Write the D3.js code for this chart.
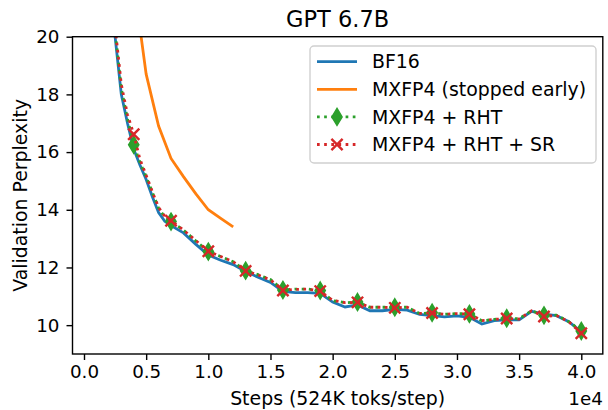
<!DOCTYPE html>
<html>
<head>
<meta charset="utf-8">
<script src="https://cdn.jsdelivr.net/npm/d3@7"></script>
<style>
  html, body { margin: 0; padding: 0; background: #fff; }
  svg { display: block; font-family: "DejaVu Sans", sans-serif; }
</style>
</head>
<body>
<svg id="chart" width="608" height="410"></svg>
<script>
// ---------- data ----------
const title = "GPT 6.7B";
const xLabel = "Steps (524K toks/step)";
const yLabel = "Validation Perplexity";
const xTicks = [0, 5000, 10000, 15000, 20000, 25000, 30000, 35000, 40000];
const xTickLabels = ["0.0", "0.5", "1.0", "1.5", "2.0", "2.5", "3.0", "3.5", "4.0"];
const yTicks = [10, 12, 14, 16, 18, 20];
const seriesNames = ["BF16", "MXFP4 (stopped early)", "MXFP4 + RHT", "MXFP4 + RHT + SR"];

const bf16Steps = [2000, 2500, 3000, 3500, 4000, 4500, 5000, 5500, 6000, 6500, 7000,
  8000, 9000, 10000, 11000, 12000, 13000, 14000, 15000, 16000, 17000, 18000, 19000, 20000,
  21000, 22000, 23000, 24000, 25000, 26000, 27000, 28000, 29000, 30000, 31000, 32000,
  33000, 34000, 35000, 36000, 37000, 38000, 39000, 40000];
const bf16Values = [22.6, 20.0, 18.0, 17.0, 16.1, 15.55, 15.05, 14.45, 13.9, 13.6, 13.45,
  13.2, 12.8, 12.43, 12.25, 12.1, 11.86, 11.66, 11.48, 11.17, 11.13, 11.13, 11.1, 10.8,
  10.63, 10.7, 10.5, 10.5, 10.55, 10.52, 10.37, 10.33, 10.29, 10.32, 10.27, 10.04,
  10.16, 10.18, 10.18, 10.48, 10.38, 10.33, 10.12, 9.77];

const mxfp4Steps = [4000, 5000, 6000, 7000, 8000, 9000, 10000, 11000, 12000];
const mxfp4Values = [21.9, 18.7, 16.9, 15.78, 15.15, 14.55, 14.0, 13.7, 13.41];

const rhtSteps = bf16Steps;
const rhtValues = [22.8, 20.2, 18.2, 17.15, 16.25, 15.65, 15.15, 14.6, 14.05, 13.75, 13.59,
  13.3, 12.92, 12.55, 12.38, 12.2, 11.89, 11.75, 11.58, 11.22, 11.25, 11.25, 11.2, 10.85,
  10.78, 10.8, 10.62, 10.62, 10.62, 10.62, 10.4, 10.43, 10.38, 10.4, 10.39, 10.15,
  10.2, 10.24, 10.22, 10.5, 10.34, 10.35, 10.12, 9.8];

const srSteps = bf16Steps;
const srValues = [23.0, 20.35, 18.35, 17.3, 16.62, 15.75, 15.2, 14.62, 14.08, 13.78, 13.62,
  13.3, 12.93, 12.56, 12.38, 12.2, 11.88, 11.74, 11.57, 11.2, 11.24, 11.25, 11.18, 10.86,
  10.78, 10.79, 10.62, 10.62, 10.6, 10.62, 10.41, 10.42, 10.38, 10.4, 10.38, 10.16,
  10.2, 10.23, 10.21, 10.5, 10.3, 10.34, 10.12, 9.72];

const markerSteps = [4000, 7000, 10000, 13000, 16000, 19000, 22000, 25000, 28000, 31000, 34000, 37000, 40000];

// ---------- layout ----------
const svg = d3.select("#chart");
const plot = { left: 72.5, right: 602.8, top: 36.7, bottom: 354 };
const x = d3.scaleLinear().domain([-925, 41730]).range([plot.left, plot.right]);
const y = d3.scaleLinear().domain([9.0, 20]).range([plot.bottom, plot.top]);

const colors = ["#1f77b4", "#ff7f0e", "#2ca02c", "#d62728"];
const lw = 2.8;
const dotDash = "2.7,4.45";

svg.append("defs").append("clipPath").attr("id", "clip")
  .append("rect").attr("x", plot.left).attr("y", plot.top)
  .attr("width", plot.right - plot.left).attr("height", plot.bottom - plot.top);

const zip = (s, v) => s.map((d, i) => ({ x: d, y: v[i] }));
const line = d3.line().x(d => x(d.x)).y(d => y(d.y));

const g = svg.append("g").attr("clip-path", "url(#clip)");

function diamond(sel, cx, cy, c) {
  const h = 8.5, w = 5.1;
  sel.append("path")
    .attr("d", `M${cx},${cy - h}L${cx + w},${cy}L${cx},${cy + h}L${cx - w},${cy}Z`)
    .attr("fill", c).attr("stroke", c).attr("stroke-width", 1.5);
}
function cross(sel, cx, cy, c) {
  const r = 5.6;
  sel.append("path")
    .attr("d", `M${cx - r},${cy - r}L${cx + r},${cy + r}M${cx - r},${cy + r}L${cx + r},${cy - r}`)
    .attr("fill", "none").attr("stroke", c).attr("stroke-width", 2.4);
}

// BF16
g.append("path").datum(zip(bf16Steps, bf16Values)).attr("d", line)
  .attr("fill", "none").attr("stroke", colors[0]).attr("stroke-width", lw);
// MXFP4
g.append("path").datum(zip(mxfp4Steps, mxfp4Values)).attr("d", line)
  .attr("fill", "none").attr("stroke", colors[1]).attr("stroke-width", lw);
// RHT
const rht = zip(rhtSteps, rhtValues);
g.append("path").datum(rht).attr("d", line)
  .attr("fill", "none").attr("stroke", colors[2]).attr("stroke-width", lw)
  .attr("stroke-dasharray", dotDash);
rht.filter(d => markerSteps.includes(d.x)).forEach(d => diamond(g, x(d.x), y(d.y), colors[2]));
// SR
const sr = zip(srSteps, srValues);
g.append("path").datum(sr).attr("d", line)
  .attr("fill", "none").attr("stroke", colors[3]).attr("stroke-width", lw)
  .attr("stroke-dasharray", dotDash);
sr.filter(d => markerSteps.includes(d.x)).forEach(d => cross(g, x(d.x), y(d.y), colors[3]));

// ---------- axes ----------
const tickFont = 18.3;
const xAxis = d3.axisBottom(x).tickValues(xTicks)
  .tickFormat((d, i) => xTickLabels[i]).tickSizeInner(6).tickSizeOuter(0).tickPadding(5);
const gx = svg.append("g").attr("transform", `translate(0,${plot.bottom})`).call(xAxis);
gx.select(".domain").remove();
gx.selectAll("line").attr("stroke", "#000").attr("stroke-width", 1.4);
gx.selectAll("text").attr("font-size", tickFont).attr("fill", "#000")
  .attr("font-family", "DejaVu Sans");

const yAxis = d3.axisLeft(y).tickValues(yTicks).tickFormat(d3.format("d"))
  .tickSizeInner(6).tickSizeOuter(0).tickPadding(7);
const gy = svg.append("g").attr("transform", `translate(${plot.left},0)`).call(yAxis);
gy.select(".domain").remove();
gy.selectAll("line").attr("stroke", "#000").attr("stroke-width", 1.4);
gy.selectAll("text").attr("font-size", tickFont).attr("fill", "#000")
  .attr("font-family", "DejaVu Sans");

// spines
svg.append("rect").attr("x", plot.left).attr("y", plot.top)
  .attr("width", plot.right - plot.left).attr("height", plot.bottom - plot.top)
  .attr("fill", "none").attr("stroke", "#000").attr("stroke-width", 1.4);

// labels
svg.append("text").attr("x", (plot.left + plot.right) / 2).attr("y", 26.5)
  .attr("text-anchor", "middle").attr("font-size", 22.5).text(title);
svg.append("text").attr("x", (plot.left + plot.right) / 2).attr("y", 405)
  .attr("text-anchor", "middle").attr("font-size", 18.9).text(xLabel);
svg.append("text").attr("x", plot.right).attr("y", 405)
  .attr("text-anchor", "end").attr("font-size", 18.3).text("1e4");
svg.append("text").attr("transform", `translate(27,${(plot.top + plot.bottom) / 2}) rotate(-90)`)
  .attr("text-anchor", "middle").attr("font-size", 18.9).text(yLabel);

// ---------- legend ----------
const leg = svg.append("g");
leg.append("rect").attr("x", 310).attr("y", 46).attr("width", 286).attr("height", 117)
  .attr("rx", 4).attr("fill", "#fff").attr("fill-opacity", 0.8)
  .attr("stroke", "#d0d0d0").attr("stroke-width", 1.4);
const rowY = [61.7, 89.3, 116.9, 144.5];
seriesNames.forEach((name, i) => {
  const yy = rowY[i];
  const l = leg.append("line").attr("x1", 317).attr("x2", 357).attr("y1", yy).attr("y2", yy)
    .attr("stroke", colors[i]).attr("stroke-width", lw);
  if (i >= 2) l.attr("stroke-dasharray", dotDash);
  if (i === 2) diamond(leg, 337, yy, colors[i]);
  if (i === 3) cross(leg, 337, yy, colors[i]);
  leg.append("text").attr("x", 372).attr("y", yy).attr("dy", "0.35em")
    .attr("font-size", 18.9).text(name);
});
</script>
</body>
</html>
